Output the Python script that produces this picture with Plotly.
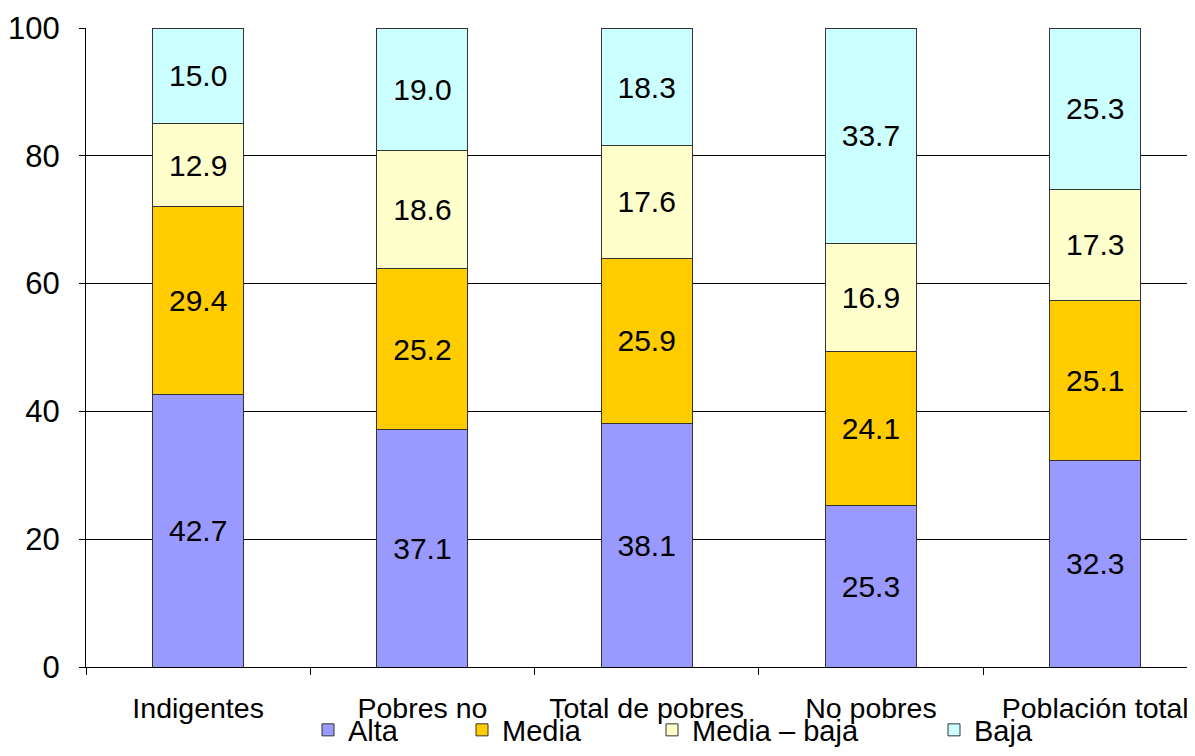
import plotly.graph_objects as go

categories = ["Indigentes", "Pobres no", "Total de pobres", "No pobres", "Población total"]
alta = [42.7, 37.1, 38.1, 25.3, 32.3]
media = [29.4, 25.2, 25.9, 24.1, 25.1]
media_baja = [12.9, 18.6, 17.6, 16.9, 17.3]
baja = [15.0, 19.0, 18.3, 33.7, 25.3]

series = [
    ("Alta", alta, "#9999FF", "legend"),
    ("Media", media, "#FFCC00", "legend2"),
    ("Media – baja", media_baja, "#FFFFCC", "legend3"),
    ("Baja", baja, "#CCFFFF", "legend4"),
]

FONT = "Liberation Sans, Arial, sans-serif"
fig = go.Figure()
for name, vals, color, lg in series:
    fig.add_trace(go.Bar(
        x=categories, y=vals, name=name,
        marker=dict(color=color, line=dict(color="#333333", width=1)),
        text=[f"{v:.1f}" for v in vals],
        textposition="inside", insidetextanchor="middle", textangle=0,
        textfont=dict(size=30, color="black", family=FONT),
        constraintext="none",
        legend=lg, showlegend=True,
    ))

# page body has an 8px default margin (content is offset by 8px)
W, H = 1187, 740
L, R, T, B = 78, 0, 20, 81
pw = W - L - R
ph = H - T - B

def lx(px):
    return (px - L) / pw

ly = (H - B - 722) / ph
legend_common = dict(orientation="h", yanchor="middle", y=ly, xanchor="left",
                     font=dict(size=29, family=FONT, color="black"),
                     bgcolor="rgba(0,0,0,0)", borderwidth=0, visible=True)

fig.update_layout(
    width=W, height=H,
    margin=dict(l=L, r=R, t=T, b=B, autoexpand=False),
    barmode="stack", bargap=0.594,
    showlegend=True,
    plot_bgcolor="white", paper_bgcolor="white",
    font=dict(family=FONT, size=30, color="black"),
    legend=dict(x=lx(300), **legend_common),
    legend2=dict(x=lx(454), **legend_common),
    legend3=dict(x=lx(644), **legend_common),
    legend4=dict(x=lx(926), **legend_common),
    xaxis=dict(
        type="category", tickson="boundaries", ticks="outside", ticklen=7,
        tickcolor="black", showline=True, linecolor="black", linewidth=1,
        showgrid=False, tickfont=dict(size=28.5, family=FONT, color="black"),
        ticklabelstandoff=16, automargin=False, range=[-0.5, 4.445],
    ),
    yaxis=dict(
        range=[0, 100], dtick=20, ticks="outside", ticklen=6, tickcolor="black",
        showline=True, linecolor="black", linewidth=1,
        showgrid=True, gridcolor="black", gridwidth=1, zeroline=False,
        tickfont=dict(size=31, family=FONT, color="black"),
        ticklabelstandoff=13, automargin=False,
    ),
)

fig.write_html("out.html")
